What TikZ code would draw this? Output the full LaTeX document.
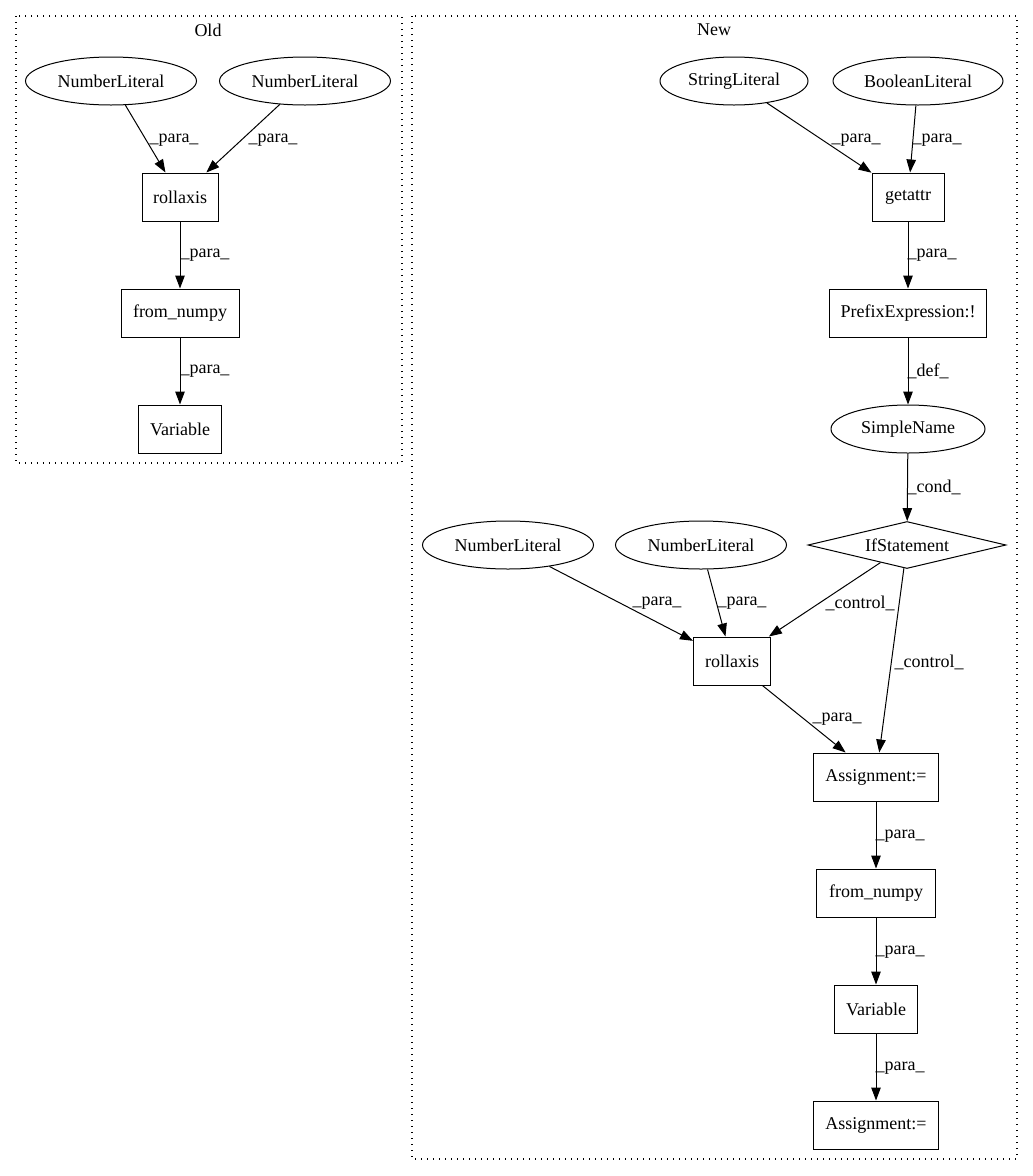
\documentclass[tikz,border=0pt]{standalone}
\usepackage{fontspec}
\setmainfont{Liberation Serif}
\usetikzlibrary{arrows.meta,shapes.geometric}
\begin{document}
\begin{tikzpicture}[x=1pt,y=-1pt,
  every node/.style={font=\fontsize{18pt}{22pt}\selectfont},
  base/.style={draw,line width=1pt,inner sep=0pt},
  ell/.style={base,ellipse,minimum height=48pt},
  box/.style={base,rectangle,minimum height=48pt},
  dia/.style={base,diamond,shape aspect=4.2,minimum width=198pt,minimum height=47pt},
  edge/.style={line width=1pt,-{Triangle[length=13pt,width=9.5pt]}},
  lbl/.style={inner sep=0pt},
  cluster/.style={line width=1.2pt,dash pattern=on 1.4pt off 4.6pt}
]
\useasboundingbox (0,0) rectangle (1033,1176);
% clusters
\draw[cluster] (16,16) rectangle (402,463);
\node[lbl] (oldlbl) at (208,30) {Old};
\draw[cluster] (412,16) rectangle (1017,1159);
\node[lbl] (newlbl) at (714,30) {New};

% Old nodes
\node[ell,minimum width=171pt] (onl1) at (111,81) {NumberLiteral};
\node[ell,minimum width=171pt] (onl2) at (305,81) {NumberLiteral};
\node[box,minimum width=76pt] (oroll) at (180,197) {rollaxis};
\node[box,minimum width=118pt] (ofrom) at (180,313) {from\_numpy};
\node[box,minimum width=83pt] (ovar) at (180,429) {Variable};

% New nodes
\node[ell,minimum width=148pt] (nstr) at (734,81) {StringLiteral};
\node[ell,minimum width=170pt] (nbool) at (918,81) {BooleanLiteral};
\node[box,minimum width=72pt] (nget) at (908,197) {getattr};
\node[box,minimum width=157pt] (npre) at (908,313) {PrefixExpression:!};
\node[ell,minimum width=154pt] (nsn) at (908,429) {SimpleName};
\node[dia] (nif) at (907,545) {IfStatement};
\node[ell,minimum width=171pt] (nnl1) at (508,545) {NumberLiteral};
\node[ell,minimum width=171pt] (nnl2) at (701,545) {NumberLiteral};
\node[box,minimum width=77pt] (nroll) at (732,661) {rollaxis};
\node[box,minimum width=125pt] (nas1) at (876,777) {Assignment:=};
\node[box,minimum width=119pt] (nfrom) at (876,893) {from\_numpy};
\node[box,minimum width=83pt] (nvar) at (876,1009) {Variable};
\node[box,minimum width=125pt] (nas2) at (876,1125) {Assignment:=};

% Old edges
\draw[edge] (onl1) -- (oroll) node[lbl,at={(174,140)}] {\_para\_};
\draw[edge] (onl2) -- (oroll) node[lbl,at={(273,140)}] {\_para\_};
\draw[edge] (oroll) -- (ofrom) node[lbl,at={(205,255)}] {\_para\_};
\draw[edge] (ofrom) -- (ovar) node[lbl,at={(205,371)}] {\_para\_};

% New edges
\draw[edge] (nstr) -- (nget) node[lbl,at={(856,140)}] {\_para\_};
\draw[edge] (nbool) -- (nget) node[lbl,at={(937,140)}] {\_para\_};
\draw[edge] (nget) -- (npre) node[lbl,at={(932,255)}] {\_para\_};
\draw[edge] (npre) -- (nsn) node[lbl,at={(928,371)}] {\_def\_};
\draw[edge] (nsn) -- (nif) node[lbl,at={(934,487)}] {\_cond\_};
\draw[edge] (nnl1) -- (nroll) node[lbl,at={(657,603)}] {\_para\_};
\draw[edge] (nnl2) -- (nroll) node[lbl,at={(742,603)}] {\_para\_};
\draw[edge] (nif) -- (nroll) node[lbl,at={(860,603)}] {\_control\_};
\draw[edge] (nif) -- (nas1) node[lbl,at={(929,662)}] {\_control\_};
\draw[edge] (nroll) -- (nas1) node[lbl,at={(837,719)}] {\_para\_};
\draw[edge] (nas1) -- (nfrom) node[lbl,at={(900,836)}] {\_para\_};
\draw[edge] (nfrom) -- (nvar) node[lbl,at={(900,952)}] {\_para\_};
\draw[edge] (nvar) -- (nas2) node[lbl,at={(900,1068)}] {\_para\_};
\end{tikzpicture}
\end{document}
